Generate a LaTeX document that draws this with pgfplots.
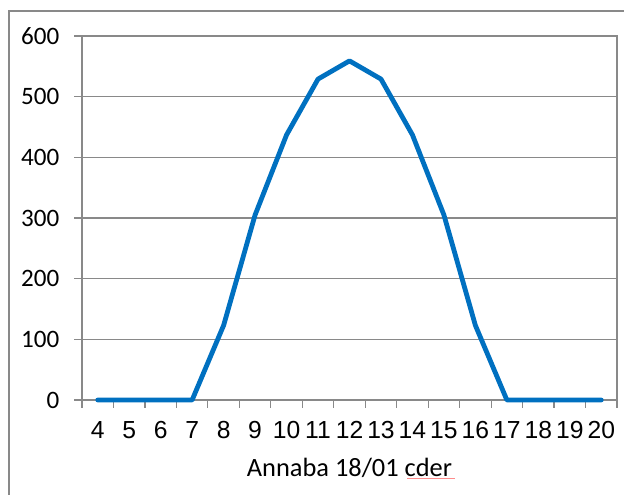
\documentclass[border=0pt]{standalone}
\usepackage{fontspec}
\setmainfont{Carlito}
\newfontfamily\arialfont{Liberation Sans}
\usepackage{pgfplots}
\pgfplotsset{compat=1.18}
\definecolor{gridgray}{HTML}{898989}
\definecolor{lineblue}{HTML}{0070C0}
\begin{document}
\begin{tikzpicture}
\useasboundingbox (0pt,0pt) rectangle (468pt,371.25pt);
\draw[gridgray, line width=0.9pt] (6.75pt,-2pt) -- (6.75pt,363pt) -- (472pt,363pt);
\begin{axis}[
  at={(61.5pt,71.25pt)}, anchor=south west,
  scale only axis, width=401.25pt, height=273pt,
  xmin=3.5, xmax=20.5, ymin=0, ymax=600,
  xtick={4,...,20},
  xticklabels={4,5,6,7,8,9,10,11,12,13,14,15,16,17,18,19,20},
  minor xtick={3.5,4.5,...,20.5},
  ytick={0,100,...,600},
  tick pos=left,
  tick align=outside,
  major tick length=6pt, minor tick length=6pt,
  major x tick style={draw=none},
  minor x tick style={gridgray, line width=0.9pt},
  major y tick style={gridgray, line width=0.9pt},
  ymajorgrids,
  major grid style={gridgray, line width=0.9pt},
  axis line style={gridgray, line width=0.9pt},
  /pgf/number format/assume math mode=true,
  yticklabel style={font=\fontsize{18.8}{20}\selectfont, xshift=-7.5pt},
  xticklabel style={font=\arialfont\fontsize{18.5}{20}\selectfont, inner xsep=0pt, yshift=-6.75pt},
  xlabel={Annaba 18/01 cder},
  xlabel style={font=\fontsize{19.8}{22}\selectfont, at={(axis description cs:0.5,0)}, anchor=base, yshift=-57.5pt},
  clip=false,
]
\addplot[lineblue, line width=3.6pt, line join=round, line cap=round] coordinates {
(4,0) (5,0) (6,0) (7,0) (8,123) (9,305) (10,437) (11,529) (12,559)
(13,529) (14,437) (15,305) (16,123) (17,0) (18,0) (19,0) (20,0)
};
\end{axis}
\draw[red!45, line width=0.6pt] (305.25pt,12.75pt) -- (341.25pt,12.75pt);
\end{tikzpicture}
\end{document}
